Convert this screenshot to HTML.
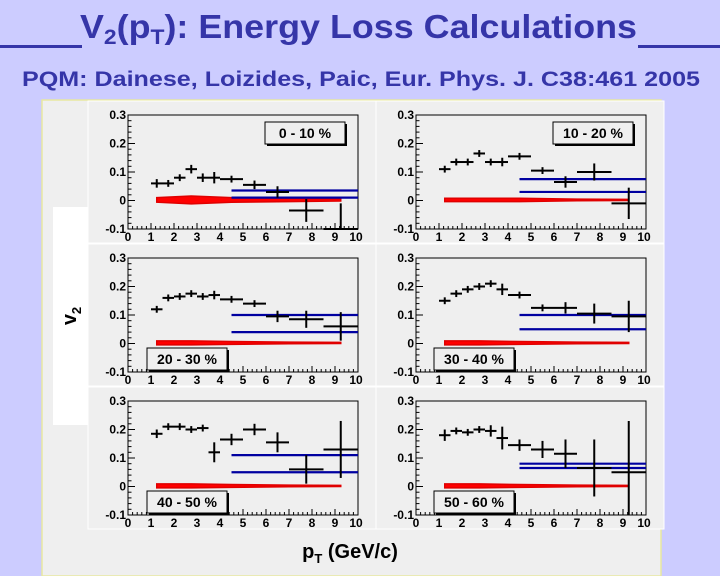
<!DOCTYPE html>
<html><head><meta charset="utf-8"><style>
html,body{margin:0;padding:0;width:720px;height:576px;overflow:hidden;background:#ccccff;font-family:"Liberation Sans",sans-serif}
</style></head><body>
<svg width="720" height="100" style="position:absolute;left:0;top:0">
<text x="80" y="38" font-size="33" font-weight="bold" fill="#3535a8" textLength="557" lengthAdjust="spacingAndGlyphs">V<tspan font-size="21" dy="6">2</tspan><tspan dy="-6">(p</tspan><tspan font-size="21" dy="6">T</tspan><tspan dy="-6">): Energy Loss Calculations</tspan></text>
<rect x="0" y="45" width="82" height="3" fill="#3535a8"/>
<rect x="638" y="45" width="82" height="3" fill="#3535a8"/>
<text x="22" y="86" font-size="21" font-weight="bold" fill="#3535a8" textLength="678" lengthAdjust="spacingAndGlyphs">PQM: Dainese, Loizides, Paic, Eur. Phys. J. C38:461 2005</text>
</svg>
<svg id="c" width="720" height="576" style="position:absolute;left:0;top:0"></svg>
<script>
const pts=[1.25,1.75,2.25,2.75,3.25,3.75,4.5,5.5,6.5,7.75,9.25];
const xerr=[0.25,0.25,0.25,0.25,0.25,0.25,0.5,0.5,0.5,0.75,0.75];
const labels=["0 - 10 %","10 - 20 %","20 - 30 %","30 - 40 %","40 - 50 %","50 - 60 %"];
const v2_0=[0.06,0.06,0.08,0.11,0.08,0.08,0.075,0.055,0.03,-0.035,-0.1];
const e_0=[0.015,0.01,0.01,0.015,0.015,0.02,0.01,0.015,0.02,0.04,0.09];
const v2_1=[0.11,0.135,0.135,0.165,0.135,0.135,0.155,0.105,0.065,0.1,-0.01];
const e_1=[0.01,0.005,0.005,0.005,0.01,0.015,0.01,0.01,0.02,0.03,0.055];
const v2_2=[0.12,0.16,0.165,0.175,0.165,0.17,0.155,0.14,0.095,0.085,0.06];
const e_2=[0.01,0.005,0.005,0.005,0.005,0.015,0.01,0.01,0.02,0.03,0.05];
const v2_3=[0.15,0.175,0.19,0.2,0.21,0.19,0.17,0.125,0.125,0.105,0.095];
const e_3=[0.01,0.01,0.01,0.01,0.01,0.02,0.01,0.01,0.02,0.035,0.055];
const v2_4=[0.185,0.21,0.21,0.2,0.205,0.12,0.165,0.2,0.155,0.06,0.13];
const e_4=[0.015,0.005,0.005,0.005,0.01,0.035,0.02,0.02,0.035,0.05,0.1];
const v2_5=[0.18,0.195,0.19,0.2,0.195,0.17,0.145,0.13,0.115,0.065,0.05];
const e_5=[0.02,0.01,0.005,0.01,0.02,0.04,0.02,0.03,0.05,0.1,0.18];
const blueHi=[0.035,0.075,0.1,0.1,0.11,0.08];
const blueLo=[0.01,0.03,0.04,0.05,0.05,0.065];
const redX=[1.25,2.75,4.5,7,9.25];
const redY=[0.002,0.002,0.002,0.002,0.002];
const redW_0=[0.008,0.014,0.008,0.006,0.004];
const redW_1=[0.006,0.006,0.006,0.003,0.002];
const redW_other=[0.007,0.007,0.005,0.003,0.002];
const yTicks=[0.3,0.2,0.1,0,-0.1];
const yTickLab=["0.3","0.2","0.1","0","-0.1"];
const xTicks=[0,1,2,3,4,5,6,7,8,9,10];

const V=[v2_0,v2_1,v2_2,v2_3,v2_4,v2_5], E=[e_0,e_1,e_2,e_3,e_4,e_5];
const RW=[redW_0,redW_1,redW_other,redW_other,redW_other,redW_other];
const NS="http://www.w3.org/2000/svg", svg=document.getElementById('c');
function mk(t,a,p){const e=document.createElementNS(NS,t);for(const k in a)e.setAttribute(k,a[k]);(p||svg).appendChild(e);return e;}

const canvas=mk('rect',{x:42,y:100,width:619,height:476,fill:'#efefef',stroke:'#e8e8a0','stroke-width':1.5});


const wb=mk('rect',{x:53,y:207,width:44,height:218,fill:'#ffffff'});


const yl=mk('text',{x:0,y:0,transform:'translate(76,316) rotate(-90)','text-anchor':'middle','font-size':20,'font-weight':'bold',fill:'#000'});
yl.innerHTML='v<tspan font-size="13" dy="5">2</tspan>';


const xl=mk('text',{x:350,y:558,'text-anchor':'middle','font-size':20,'font-weight':'bold',fill:'#000'});
xl.innerHTML='p<tspan font-size="13" dy="5">T</tspan><tspan dy="-5"> (GeV/c)</tspan>';



const cols=[128,416], rows=[115,258,401], W=230, H=114;
for(let p=0;p<6;p++){
  const X0=cols[p%2], Y0=rows[Math.floor(p/2)];
  const g=mk('g',{});
  
  
  const sx=v=>X0+v/10*W, sy=v=>Y0+(0.3-v)/0.4*H;
  const clip=v=>Math.max(Y0,Math.min(Y0+H,v));
  mk('rect',{x:X0-40,y:Y0-14,width:288,height:H+28,fill:'#efefef',stroke:'#ffffff','stroke-width':1},g);
  mk('rect',{x:X0,y:Y0,width:W,height:H,fill:'#efefef',stroke:'#000','stroke-width':1},g);
  for(let i=0;i<=50;i++){const x=sx(i*0.2),L=i%5==0?6:3;mk('line',{x1:x,x2:x,y1:Y0+H,y2:Y0+H-L,stroke:'#000','stroke-width':1},g);}
  for(let i=0;i<=20;i++){const y=sy(-0.1+i*0.02),L=i%5==0?7:3.5;mk('line',{x1:X0,x2:X0+L,y1:y,y2:y,stroke:'#000','stroke-width':1},g);}
  xTicks.forEach(t=>{const e=mk('text',{x:sx(t)+(t==10?-2:0),y:Y0+H+12,'text-anchor':'middle','font-size':12,'font-weight':'bold'},g);e.textContent=t;});
  yTicks.forEach((t,i)=>{const e=mk('text',{x:X0-2,y:sy(t)+4,'text-anchor':'end','font-size':12,'font-weight':'bold'},g);e.textContent=yTickLab[i];});
  let top='',bot='';
  redX.forEach((x,i)=>{top+=(i?'L':'M')+sx(x)+','+sy(redY[i]+RW[p][i]);});
  for(let i=redX.length-1;i>=0;i--)bot+='L'+sx(redX[i])+','+sy(redY[i]-RW[p][i]);
  const rb=mk('path',{d:top+bot+'Z',fill:'#ff0000',stroke:'#e00000','stroke-width':1.5},g);
  
  
  [blueHi[p],blueLo[p]].forEach((b,i)=>{const l=mk('line',{x1:sx(4.5),x2:sx(10),y1:sy(b),y2:sy(b),stroke:'#0000a0','stroke-width':2.2},g);
    
    });
  pts.forEach((x,i)=>{const v=V[p][i],e=E[p][i];
    const pg=mk('g',{stroke:'#000','stroke-width':2},g);
    
    
    const yc=sy(v);
    if(yc>=Y0&&yc<=Y0+H)mk('line',{x1:sx(x-xerr[i]),x2:sx(x+xerr[i]),y1:yc,y2:yc},pg);
    else mk('line',{x1:sx(x-xerr[i]),x2:sx(x+xerr[i]),y1:clip(yc)-1,y2:clip(yc)-1},pg);
    mk('line',{x1:sx(x),x2:sx(x),y1:clip(sy(v+Math.max(e,0.012))),y2:clip(sy(v-Math.max(e,0.012)))},pg);
  });
  let bx,by;
  if(p<2){bx=X0+W-93;by=Y0+7;} else {bx=X0+(p%2?18:19);by=Y0+H-24;}
  const lg=mk('g',{},g);
  
  
  mk('rect',{x:bx+2,y:by+2,width:80,height:22,fill:'#000'},lg);
  mk('rect',{x:bx,y:by,width:80,height:22,fill:'#efefef',stroke:'#000','stroke-width':1},lg);
  const t=mk('text',{x:bx+40,y:by+16,'text-anchor':'middle','font-size':14,'font-weight':'bold'},lg);t.textContent=labels[p];
}
</script>
</body></html>
